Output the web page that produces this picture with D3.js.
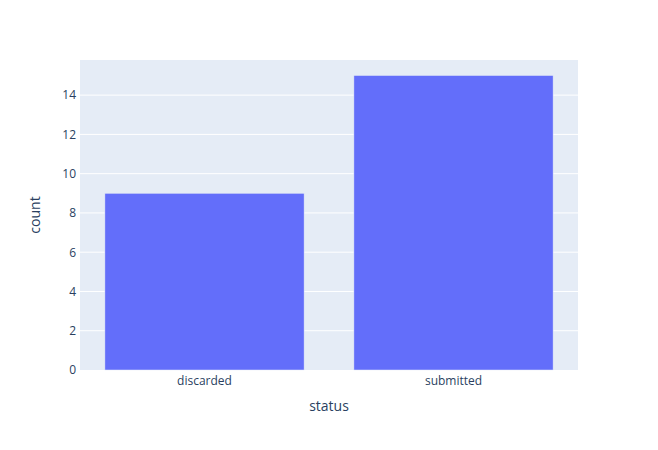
<!DOCTYPE html>
<html>
<head>
<meta charset="utf-8">
<script src="https://cdn.jsdelivr.net/npm/d3@7"></script>
<style>
  body { margin: 0; background: #fff; }
  text { font-family: "Open Sans", "Noto Sans", sans-serif; fill: #2a3f5f; }
</style>
</head>
<body>
<div id="chart"></div>
<script>
// chart data
var statuses = ["discarded", "submitted"];
var counts = [9, 15];
var yTicks = [0, 2, 4, 6, 8, 10, 12, 14];

var WIDTH = 658, HEIGHT = 450;
var margin = { top: 60, right: 80, bottom: 80, left: 80 };
var plotW = WIDTH - margin.left - margin.right;
var plotH = HEIGHT - margin.top - margin.bottom;

var svg = d3.select("#chart").append("svg")
    .attr("width", WIDTH)
    .attr("height", HEIGHT);

var plot = svg.append("g")
    .attr("transform", "translate(" + margin.left + "," + margin.top + ")");

// plot background
plot.append("rect")
    .attr("width", plotW)
    .attr("height", plotH)
    .attr("fill", "#E5ECF6");

var x = d3.scaleBand()
    .domain(statuses)
    .range([0, plotW])
    .paddingInner(0.2)
    .paddingOuter(0.1);

// plotly pads the top by about 5%
var y = d3.scaleLinear()
    .domain([0, d3.max(counts) * 1.0526])
    .range([plotH, 0]);

// grid lines
plot.selectAll("line.grid")
    .data(yTicks.filter(function(t) { return t > 0; }))
    .enter().append("line")
    .attr("class", "grid")
    .attr("x1", 0)
    .attr("x2", plotW)
    .attr("y1", function(d) { return y(d); })
    .attr("y2", function(d) { return y(d); })
    .attr("stroke", "#fff")
    .attr("stroke-width", 1);

// bars
plot.selectAll("rect.bar")
    .data(statuses)
    .enter().append("rect")
    .attr("class", "bar")
    .attr("x", function(d) { return x(d); })
    .attr("width", x.bandwidth())
    .attr("y", function(d, i) { return y(counts[i]); })
    .attr("height", function(d, i) { return plotH - y(counts[i]); })
    .attr("fill", "#636efa")
    .attr("stroke", "#E5ECF6")
    .attr("stroke-width", 0.5);

// y axis
var yAxis = plot.append("g")
    .call(d3.axisLeft(y).tickValues(yTicks).tickSize(0).tickPadding(4));
yAxis.select(".domain").remove();
yAxis.selectAll("text")
    .attr("font-size", 12)
    .attr("font-family", "\"Open Sans\", sans-serif")
    .style("fill", "#2a3f5f");

// x axis
var xAxis = plot.append("g")
    .attr("transform", "translate(0," + plotH + ")")
    .call(d3.axisBottom(x).tickSize(0).tickPadding(6));
xAxis.select(".domain").remove();
xAxis.selectAll("text")
    .attr("font-size", 12)
    .attr("font-family", "\"Open Sans\", sans-serif")
    .style("fill", "#2a3f5f");

// axis titles
svg.append("text")
    .attr("x", margin.left + plotW / 2)
    .attr("y", 411)
    .attr("text-anchor", "middle")
    .attr("font-size", 14)
    .text("status");

svg.append("text")
    .attr("transform", "translate(40," + (margin.top + plotH / 2) + ") rotate(-90)")
    .attr("text-anchor", "middle")
    .attr("font-size", 14)
    .text("count");
</script>
</body>
</html>
